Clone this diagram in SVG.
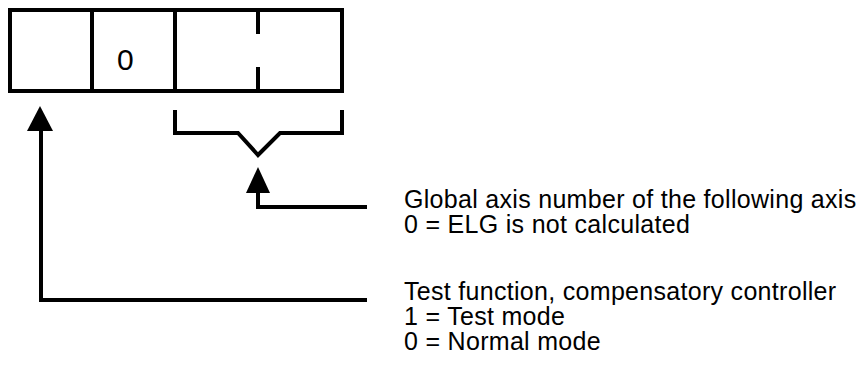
<svg xmlns="http://www.w3.org/2000/svg" width="863" height="369" viewBox="0 0 863 369">
<style>
.ln{fill:none;stroke:#000;stroke-width:4;stroke-linecap:square;stroke-linejoin:miter}
.ah{fill:#000;stroke:none}
text{font-family:"Liberation Sans",Arial,sans-serif;fill:#000}
.lbl{font-size:25px;letter-spacing:0.3px}
.cell{font-size:30px}
</style>
<rect width="863" height="369" fill="#fff"/>
<g id="register">
<rect class="ln" x="10" y="10" width="332" height="81"/>
<line class="ln" x1="92" y1="10" x2="92" y2="91"/>
<line class="ln" x1="175" y1="10" x2="175" y2="91"/>
<line class="ln" x1="258" y1="10" x2="258" y2="32"/>
<line class="ln" x1="258" y1="69" x2="258" y2="91"/>
<text class="cell" x="117" y="70">0</text>
</g>
<g id="bracket">
<polyline class="ln" points="175,112 175,133 238,133 258,155 280,133 342,133 342,112"/>
</g>
<g id="connectors">
<polyline class="ln" points="258,190 258,207 365,207"/>
<polygon class="ah" points="258,167 246,193 270,193"/>
<polyline class="ln" points="41,128 41,300 365,300"/>
<polygon class="ah" points="40,106 27,131 53,131"/>
</g>
<g id="label-axis">
<text class="lbl" x="404" y="208">Global axis number of the following axis</text>
<text class="lbl" x="404" y="233">0 = ELG is not calculated</text>
</g>
<g id="label-test">
<text class="lbl" x="404" y="300">Test function, compensatory controller</text>
<text class="lbl" x="404" y="325">1 = Test mode</text>
<text class="lbl" x="404" y="350">0 = Normal mode</text>
</g>
</svg>
